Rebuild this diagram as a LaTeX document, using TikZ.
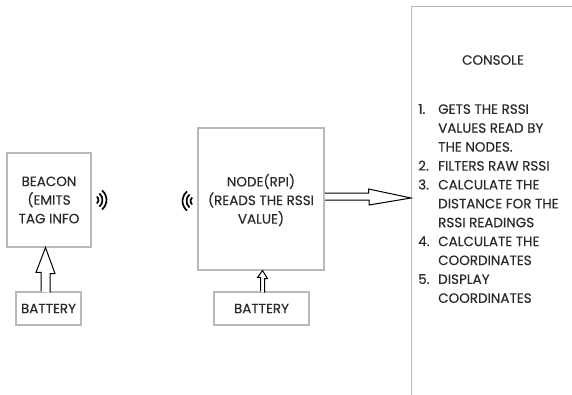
\documentclass[tikz,border=0pt]{standalone}
\usepackage{fontspec}
\setmainfont{Poppins}[FakeBold=0.35]
\usetikzlibrary{calc}
\definecolor{boxgray}{HTML}{B8B8B8}
\definecolor{txt}{HTML}{2A2A2A}
\begin{document}
\begin{tikzpicture}[x=1pt,y=-1pt,
  box/.style={draw=boxgray, line width=1.1pt, inner sep=0pt},
  lbl/.style={text=txt, align=center, inner sep=0pt, font=\fontsize{13.5}{18.6}\selectfont},
  blockarrow/.style={draw=black, line width=1pt, fill=white, line join=miter},
  wave/.style={line width=1.7pt, line cap=butt}]
\useasboundingbox (0,0) rectangle (572,394);
% boxes
\node[box, minimum width=84pt, minimum height=94pt] (beacon) at (49,200) {};
\node[box, minimum width=65pt, minimum height=33pt] (bbat) at (48.5,308.5) {};
\node[box, minimum width=126pt, minimum height=142pt] (rpi) at (261,199) {};
\node[box, minimum width=95pt, minimum height=33pt] (rbat) at (261.5,308.5) {};
\begin{scope}
\clip (0,0) rectangle (572,394);
\node[box, minimum width=200pt, minimum height=410pt, anchor=north west] (console) at (411,6) {};
\end{scope}
% texts
\node[lbl] (beacontxt) at (beacon.center) {BEACON\\(EMITS\\TAG INFO};
\node[lbl] (bbattxt) at (bbat.center) {BATTERY};
\node[lbl] (rpitxt) at (261,200) {NODE(RPI)\\(READS THE RSSI\\VALUE)};
\node[lbl] (rbattxt) at (rbat.center) {BATTERY};
\node[lbl] (constitle) at (493,60) {CONSOLE};
\node[lbl, align=left, anchor=west, font=\fontsize{13.5}{18.9}\selectfont] (conslist) at (418,203.5)
{\makebox[20pt][l]{1.}GETS THE RSSI\\
 \hspace*{20pt}VALUES READ BY\\
 \hspace*{20pt}THE NODES.\\
 \makebox[20pt][l]{2.}FILTERS RAW RSSI\\
 \makebox[20pt][l]{3.}CALCULATE THE\\
 \hspace*{20pt}DISTANCE FOR THE\\
 \hspace*{20pt}RSSI READINGS\\
 \makebox[20pt][l]{4.}CALCULATE THE\\
 \hspace*{20pt}COORDINATES\\
 \makebox[20pt][l]{5.}DISPLAY\\
 \hspace*{20pt}COORDINATES};
% block arrows
\draw[blockarrow] (bbat.north -| 41,0) -- ++(0,-19) -- ++(-5,0) -- (beacon.south -| 45.5,0) -- ++(9.5,26) -- ++(-5,0) -- ++(0,19);
\draw[blockarrow] (rbat.north -| 260.5,0) -- ++(0,-14) -- ++(-3,0) -- (rpi.south -| 262.5,0) -- ++(5,8) -- ++(-3,0) -- ++(0,14);
\draw[blockarrow] ([yshift=6pt]rpi.east) -- ++(44,0) -- ++(0,-4) -- (console.west |- 0,198) -- ++(-42,7) -- ++(0,-5) -- ++(-44,0);
% wireless waves
\coordinate (wb) at (94,200);
\foreach \r in {4.5,8.5,12.5} \draw[wave] ($(wb)+(-50:\r)$) arc[start angle=-50, end angle=50, radius=\r];
\coordinate (wr) at (195,201);
\foreach \r in {4.5,8.5,12.5} \draw[wave] ($(wr)+(130:\r)$) arc[start angle=130, end angle=230, radius=\r];
\end{tikzpicture}
\end{document}
